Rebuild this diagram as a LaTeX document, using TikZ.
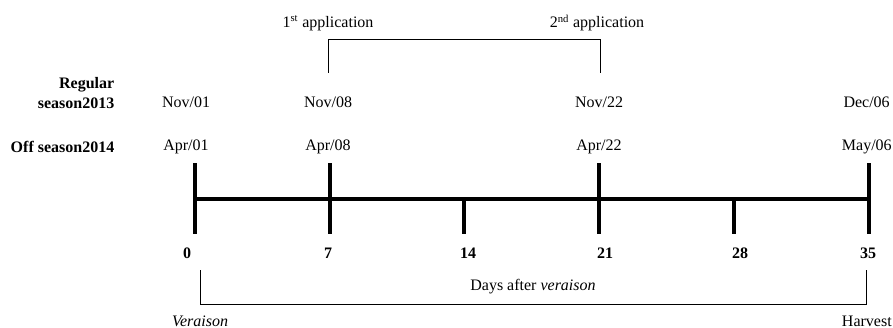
\documentclass[tikz,border=0pt]{standalone}
\usepackage{fontspec}
\setmainfont{Liberation Serif}
\tikzset{
axisline/.style={line width=2.3pt},
thinline/.style={line width=0.7pt},
daynum/.style={font=\fontsize{12}{14}\selectfont\bfseries},
datelabel/.style={font=\fontsize{12}{14}\selectfont},
edgelabel/.style={datelabel, anchor=east, inner xsep=0pt},
rowlabel/.style={font=\fontsize{12}{14.5}\selectfont\bfseries, anchor=east, align=right}
}

\begin{document}
\begin{tikzpicture}[x=0.75pt, y=-0.75pt]
\useasboundingbox (0,0) rectangle (893,328);
% axis points
\coordinate (t0) at (195,199);
\coordinate (t7) at (330,199);
\coordinate (t14) at (464,199);
\coordinate (t21) at (599,199);
\coordinate (t28) at (734,199);
\coordinate (t35) at (869,199);
\draw[axisline] (t0) -- (t35);
\draw[axisline] (t0) ++(0,-36) -- ++(0,71);
\draw[axisline] (t7) ++(0,-36) -- ++(0,71);
\draw[axisline] (t21) ++(0,-36) -- ++(0,71);
\draw[axisline] (t35) ++(0,-36) -- ++(0,71);
\draw[axisline] (t14) -- ++(0,35);
\draw[axisline] (t28) -- ++(0,35);
\node[daynum] (n0) at (187,253) {0};
\node[daynum] (n7) at (328,253) {7};
\node[daynum] (n14) at (468,253) {14};
\node[daynum] (n21) at (605,253) {21};
\node[daynum] (n28) at (740,253) {28};
\node[daynum] (n35) at (868,253) {35};
% season rows
\node[rowlabel] (regular) at (119,93) {Regular\\season2013};
\node[datelabel] (nov01) at (186,102) {Nov/01};
\node[datelabel] (nov08) at (328,102) {Nov/08};
\node[datelabel] (nov22) at (599,102) {Nov/22};
\node[edgelabel] (dec06) at (890,102) {Dec/06};
\node[rowlabel] (off) at (119,147) {Off season2014};
\node[datelabel] (apr01) at (186,147) {Apr/01};
\node[datelabel] (apr08) at (328,147) {Apr/08};
\node[datelabel] (apr22) at (599,147) {Apr/22};
\node[edgelabel] (may06) at (892,147) {May/06};
% applications
\node[datelabel] (app1) at (328,23) {1\textsuperscript{st} application};
\node[datelabel] (app2) at (597,23) {2\textsuperscript{nd} application};
\coordinate (b1) at (328,73);
\coordinate (b2) at (600,73);
\draw[thinline] (b1) -- ++(0,-34) -| (b2);
% days after veraison
\coordinate (v0) at (200,270);
\coordinate (v35) at (866,270);
\draw[thinline] (v0) -- ++(0,34) -| (v35);
\node[datelabel] (days) at (533,287) {Days after \textit{veraison}};
\node[datelabel] (veraison) at (200,321) {\textit{Veraison}};
\node[edgelabel] (harvest) at (892,321) {Harvest};
\end{tikzpicture}
\end{document}
